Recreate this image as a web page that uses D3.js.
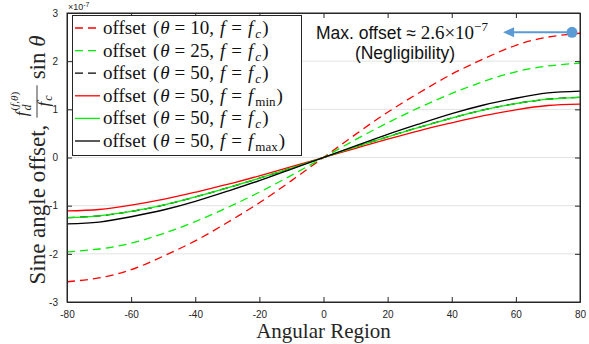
<!DOCTYPE html>
<html><head><meta charset="utf-8">
<script src="https://cdn.jsdelivr.net/npm/d3@7"></script>
<style>
html,body{margin:0;padding:0;background:#fff;}
svg{display:block;}
.serif{font-family:"Liberation Serif","Times New Roman",serif;}
.sans{font-family:"Liberation Sans",Arial,Helvetica,sans-serif;}
</style></head>
<body>
<svg id="chart" width="589" height="344"></svg>
<script>
// ---------- data (values in units of 1e-7) ----------
const angles = [-80,-70,-60,-50,-40,-30,-20,-10,0,10,20,30,40,50,60,70,80];
const theta10_fc   = [-2.58,-2.50,-2.33,-2.05,-1.73,-1.35,-0.94,-0.48,0,0.48,0.94,1.35,1.73,2.05,2.33,2.50,2.58];
const theta25_fc   = [-1.96,-1.90,-1.78,-1.58,-1.33,-1.04,-0.72,-0.37,0,0.37,0.72,1.04,1.33,1.58,1.78,1.90,1.96];
const theta50_fc   = [-1.25,-1.21,-1.12,-0.99,-0.82,-0.63,-0.43,-0.22,0,0.22,0.43,0.63,0.82,0.99,1.12,1.21,1.25];
const theta50_fmin = [-1.11,-1.08,-0.99,-0.87,-0.72,-0.56,-0.38,-0.19,0,0.19,0.38,0.56,0.72,0.87,0.99,1.08,1.11];
const theta50_fmax = [-1.38,-1.34,-1.23,-1.09,-0.91,-0.70,-0.48,-0.24,0,0.24,0.48,0.70,0.91,1.09,1.23,1.34,1.38];
const xTicks = [-80,-60,-40,-20,0,20,40,60,80];
const yTicks = [-3,-2,-1,0,1,2,3];
const maxOffsetPoint = {angle: 77.5, value: 2.6};
const arrowTipAngle = 56;

const series = [
  {theta:"10", f:"c",   values: theta10_fc,   color:"#ff0000", dash:true},
  {theta:"25", f:"c",   values: theta25_fc,   color:"#00ee00", dash:true},
  {theta:"50", f:"c",   values: theta50_fc,   color:"#000000", dash:true},
  {theta:"50", f:"min", values: theta50_fmin, color:"#ff0000", dash:false},
  {theta:"50", f:"c",   values: theta50_fc,   color:"#00ee00", dash:false},
  {theta:"50", f:"max", values: theta50_fmax, color:"#000000", dash:false}
];

// ---------- layout ----------
const L = 67, R = 580, T = 13, B = 302;
const svg = d3.select("#chart");
const x = d3.scaleLinear().domain([-80,80]).range([L,R]);
const y = d3.scaleLinear().domain([-3,3]).range([B,T]);
const axisCol = "#262626";

// grid
svg.append("g").selectAll("line").data(yTicks.filter(d=>d>-3&&d<3)).join("line")
  .attr("x1",L).attr("x2",R).attr("y1",d=>y(d)).attr("y2",d=>y(d))
  .attr("stroke","#e3e3e3").attr("stroke-width",1);

// curves
svg.append("clipPath").attr("id","clip").append("rect")
  .attr("x",L).attr("y",T).attr("width",R-L).attr("height",B-T);
const line = d3.line().x((d,i)=>x(angles[i])).y(d=>y(d)).curve(d3.curveNatural);
const cg = svg.append("g").attr("clip-path","url(#clip)");
series.forEach(s=>{
  cg.append("path").attr("d",line(s.values)).attr("fill","none")
    .attr("stroke",s.color).attr("stroke-width",1.3)
    .attr("stroke-dasharray",s.dash?"8,5":null);
});

// axes via d3 axis generators (ticks inside)
const tickLen = 5;
const xb = svg.append("g").attr("transform",`translate(0,${B})`)
  .call(d3.axisBottom(x).tickValues(xTicks).tickSizeInner(-tickLen).tickSizeOuter(0).tickPadding(9).tickFormat(d=>String(d)));
const xt = svg.append("g").attr("transform",`translate(0,${T})`)
  .call(d3.axisTop(x).tickValues(xTicks).tickSizeInner(-tickLen).tickSizeOuter(0).tickFormat(""));
const yl = svg.append("g").attr("transform",`translate(${L},0)`)
  .call(d3.axisLeft(y).tickValues(yTicks).tickSizeInner(-tickLen).tickSizeOuter(0).tickPadding(9).tickFormat(d=>String(d)));
const yr = svg.append("g").attr("transform",`translate(${R},0)`)
  .call(d3.axisRight(y).tickValues(yTicks).tickSizeInner(-tickLen).tickSizeOuter(0).tickFormat(""));
[xb,xt,yl,yr].forEach(g=>{
  g.select(".domain").attr("stroke",axisCol);
  g.selectAll(".tick line").attr("stroke",axisCol);
  g.selectAll("text").attr("fill",axisCol).attr("font-size",10)
    .attr("font-family","Liberation Sans, Arial, sans-serif");
});
// box edges
svg.append("rect").attr("x",L).attr("y",T).attr("width",R-L).attr("height",B-T)
  .attr("fill","none").attr("stroke",axisCol).attr("stroke-width",1);

// exponent label
const ex = svg.append("text").attr("class","sans").attr("x",68).attr("y",10)
  .attr("font-size",9).attr("fill",axisCol);
ex.append("tspan").text("×10");
ex.append("tspan").attr("dy",-3).attr("font-size",7).text("-7");

// x label
svg.append("text").attr("class","serif").attr("x",(L+R)/2).attr("y",338)
  .attr("text-anchor","middle").attr("font-size",21).attr("fill",axisCol).text("Angular Region");

// y label (with fraction)
const yg = svg.append("g").attr("fill",axisCol);
const main = yg.append("text").attr("class","serif").attr("font-size",23).attr("x",0).attr("y",0).text("Sine angle offset,");
const w1 = main.node().getComputedTextLength() + 7;
const num = yg.append("text").attr("class","serif").attr("font-size",17).attr("y",-18);
num.append("tspan").attr("font-style","italic").text("f");
num.append("tspan").attr("font-style","italic").attr("font-size",12).attr("dy",4).attr("dx",1).text("d");
num.append("tspan").attr("font-size",11).attr("dy",-13).attr("dx",-6).text("(");
num.append("tspan").attr("font-size",11).attr("font-style","italic").text("f");
num.append("tspan").attr("font-size",11).text(",");
num.append("tspan").attr("font-size",11).attr("font-style","italic").text("θ");
num.append("tspan").attr("font-size",11).text(")");
const den = yg.append("text").attr("class","serif").attr("font-size",17).attr("y",4);
den.append("tspan").attr("font-style","italic").text("f");
den.append("tspan").attr("font-style","italic").attr("font-size",12).attr("dy",3).attr("dx",1).text("c");
const wn = num.node().getComputedTextLength(), wd = den.node().getComputedTextLength();
const fw = Math.max(wn,wd) + 3;
num.attr("x", w1 + (fw-wn)/2);
den.attr("x", w1 + (fw-wd)/2);
yg.append("line").attr("x1",w1).attr("x2",w1+fw).attr("y1",-8).attr("y2",-8)
  .attr("stroke",axisCol).attr("stroke-width",0.9);
const tail = yg.append("text").attr("class","serif").attr("font-size",23).attr("x",w1+fw+6).attr("y",0);
tail.append("tspan").text("sin ");
tail.append("tspan").attr("font-style","italic").text("θ");
const W = w1 + fw + 6 + tail.node().getComputedTextLength();
yg.attr("transform",`translate(45,${160 + W/2}) rotate(-90)`);

// legend
const lg = svg.append("g");
lg.append("rect").attr("x",72.5).attr("y",15.5).attr("width",229).attr("height",140)
  .attr("fill","#fff").attr("stroke",axisCol).attr("stroke-width",1);
series.forEach((s,i)=>{
  const cy = 28 + i*22.6;
  lg.append("line").attr("x1",75).attr("x2",100).attr("y1",cy).attr("y2",cy)
    .attr("stroke",s.color).attr("stroke-width",1.3).attr("stroke-dasharray",s.dash?"8,5":null);
  const t = lg.append("text").attr("class","serif").attr("x",103).attr("y",cy+6)
    .attr("font-size",19).attr("fill","#111");
  t.append("tspan").text("offset");
  t.append("tspan").attr("dx",7).text("(");
  t.append("tspan").attr("font-style","italic").attr("dx",1).text("θ");
  t.append("tspan").attr("dx",5).text("=");
  t.append("tspan").attr("dx",5).text(s.theta + ",");
  t.append("tspan").attr("font-style","italic").attr("dx",6).text("f");
  t.append("tspan").attr("dx",6).text("=");
  t.append("tspan").attr("font-style","italic").attr("dx",6).text("f");
  if (s.f === "c") {
    t.append("tspan").attr("font-style","italic").attr("font-size",13).attr("dy",4).attr("dx",2).text("c");
  } else {
    t.append("tspan").attr("font-size",13).attr("dy",4).attr("dx",2).text(s.f);
  }
  t.append("tspan").attr("dy",-4).attr("dx",1).text(")");
});

// annotation
const ac = "#5b9bd5";
const px = x(maxOffsetPoint.angle), py = y(maxOffsetPoint.value), tipX = x(arrowTipAngle);
svg.append("line").attr("x1",px).attr("x2",tipX+9).attr("y1",py).attr("y2",py)
  .attr("stroke",ac).attr("stroke-width",2.2);
svg.append("path").attr("d",`M${tipX},${py} L${tipX+11},${py-5} L${tipX+11},${py+5} Z`).attr("fill",ac);
svg.append("circle").attr("cx",px).attr("cy",py).attr("r",5.5).attr("fill",ac);
const at = svg.append("text").attr("x",402).attr("y",39).attr("text-anchor","middle")
  .attr("font-size",17.5).attr("fill","#111");
at.append("tspan").attr("class","sans").text("Max. offset ≈ ");
at.append("tspan").attr("class","serif").attr("font-size",19).text("2.6×10");
at.append("tspan").attr("class","serif").attr("font-size",13).attr("dy",-8).text("−7");
svg.append("text").attr("class","sans").attr("x",405).attr("y",59).attr("text-anchor","middle")
  .attr("font-size",17.5).attr("fill","#111").text("(Negligibility)");
</script>
</body></html>
